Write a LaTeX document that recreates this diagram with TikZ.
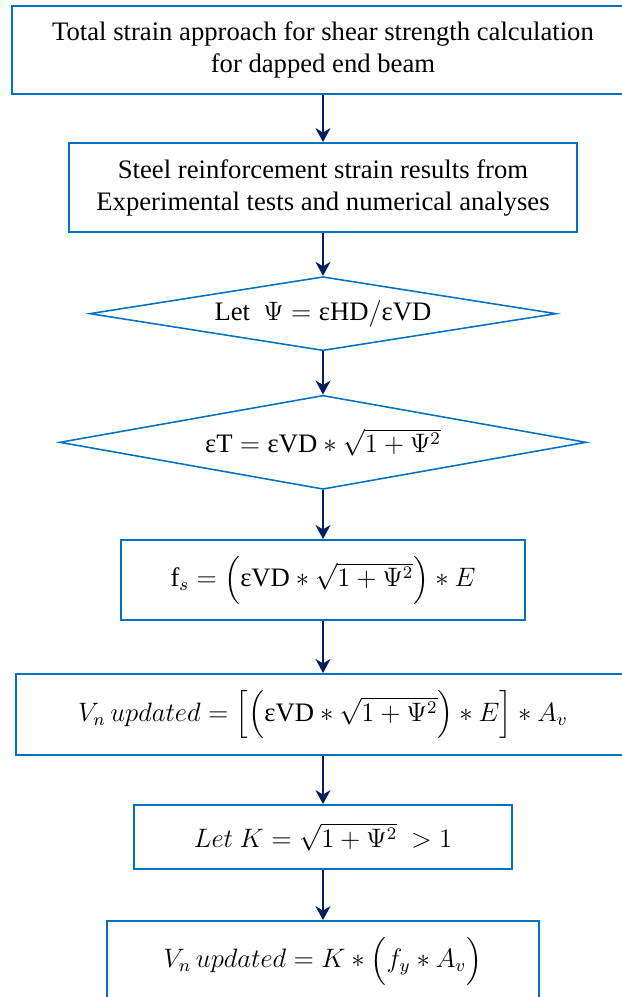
\documentclass[tikz,border=0pt]{standalone}
\usepackage{amsmath}
\usepackage{fontspec}
\setmainfont{Liberation Serif}
\usepackage{tikz}
\usetikzlibrary{shapes.geometric, arrows.meta, positioning}
\definecolor{boxblue}{RGB}{0,112,192}
\definecolor{arrownavy}{RGB}{0,32,96}

\begin{document}
\begin{tikzpicture}[
      stepbox/.style={
        rectangle,
        draw=boxblue,
        line width=0.9pt,
        align=center,
        inner sep=0pt,
        font=\fontsize{12}{14.4}\selectfont
      },
      decision/.style={
        diamond,
        aspect=6,
        draw=boxblue,
        line width=0.7pt,
        align=center,
        inner sep=0pt,
        font=\fontsize{12}{14.4}\selectfont
      },
      arrow/.style={
        draw=arrownavy,
        line width=0.9pt,
        -{Stealth[length=6.3pt, width=6.75pt, inset=2pt]}
      },
      node distance=21.2pt
    ]

    \useasboundingbox (0,0) rectangle (279.9pt,-448.65pt);

    % Input nodes
    \node (totalStrain) [stepbox, minimum width=279.9pt, minimum height=39.6pt] at (145.35pt,-22.5pt) {Total strain approach for shear strength calculation \\ for dapped end beam};
    \node (steelData) [stepbox, below=of totalStrain, minimum width=229pt, minimum height=40pt] {Steel reinforcement strain results from \\ Experimental tests and numerical analyses};

    % Strain ratio nodes
    \node (letPsi) [decision, below=19.3pt of steelData, minimum width=210pt, minimum height=33.3pt] {Let\ \ $\Psi = \text{εHD}/\text{εVD}$};
    \node (totalEps) [decision, below=19.4pt of letPsi, minimum width=237pt, minimum height=42.3pt] {$\text{εT} = \text{εVD} * \sqrt{1+\Psi^2}$};

    % Strength nodes
    \node (steelStress) [stepbox, below=22pt of totalEps, minimum width=181.8pt, minimum height=36pt] {$\mathrm{f}_s = \Bigl(\text{εVD} * \sqrt{1+\Psi^2}\Bigr) * E$};
    \node (shearUpdated) [stepbox, below=23.4pt of steelStress, minimum width=276.3pt, minimum height=36.5pt] {$V_n\,updated = \Bigl[\Bigl(\text{εVD} * \sqrt{1+\Psi^2}\Bigr) * E\Bigr] * A_v$};
    \node (letK) [stepbox, below=21.6pt of shearUpdated, minimum width=169.7pt, minimum height=28.8pt] {$Let\ K = \sqrt{1+\Psi^2}\ > 1$};
    \node (shearFinal) [stepbox, below=22.5pt of letK, minimum width=194pt, minimum height=36pt] {$V_n\,updated = K * \Bigl(f_y * A_v\Bigr)$};

    % Arrows
    \draw [arrow] (totalStrain) -- (steelData);
    \draw [arrow] (steelData) -- (letPsi);
    \draw [arrow] (letPsi) -- (totalEps);
    \draw [arrow] (totalEps) -- (steelStress);
    \draw [arrow] (steelStress) -- (shearUpdated);
    \draw [arrow] (shearUpdated) -- (letK);
    \draw [arrow] (letK) -- (shearFinal);

\end{tikzpicture}
\end{document}
